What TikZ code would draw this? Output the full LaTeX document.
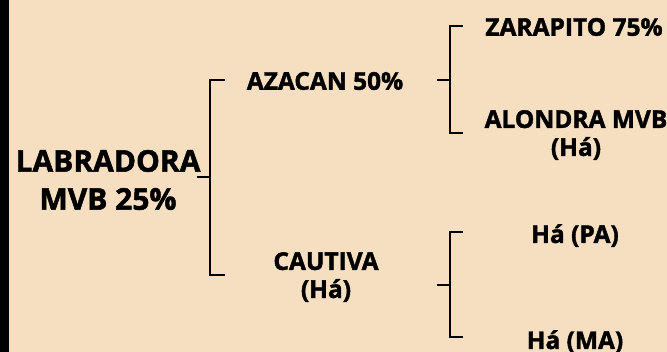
\documentclass[tikz,border=0pt]{standalone}
\usepackage{fontspec}
\setmainfont{Open Sans}[BoldFeatures={FakeBold=1.6}]
\definecolor{bg}{HTML}{F5DFC0}
\begin{document}
\begin{tikzpicture}[x=1pt,y=-1pt,
  big/.style={font=\fontsize{30}{38}\selectfont\bfseries, align=center, inner sep=0pt, text=black},
  small/.style={font=\fontsize{24.5}{28}\selectfont\bfseries, align=center, inner sep=0pt, text=black},
  brk/.style={line width=2.6pt, draw=black}]
\useasboundingbox (0,0) rectangle (667,352);
\fill[bg] (0,0) rectangle (667,352);
\fill[black] (0,0) rectangle (9,352);
% nodes
\node[big] (lab) at (108,180) {LABRADORA\\MVB 25\%};
\node[small] (aza) at (325,81) {AZACAN 50\%};
\node[small] (cau) at (326,277) {CAUTIVA\\(Há)};
\node[small] (zar) at (574,27) {ZARAPITO 75\%};
\node[small] (alo) at (576,135) {ALONDRA MVB\\(Há)};
\node[small, anchor=base] (hpa) at (575,243) {Há (PA)};
\node[small, anchor=base] (hma) at (575,349) {Há (MA)};
% bracket points
\coordinate (b1m) at (197,177);
\coordinate (b1c) at (210,177);
\coordinate (b1t) at (225,80);
\coordinate (b1b) at (225,275);
\coordinate (b2m) at (437,80);
\coordinate (b2c) at (450,80);
\coordinate (b2t) at (463,26);
\coordinate (b2b) at (463,133);
\coordinate (b3m) at (437,285);
\coordinate (b3c) at (450,285);
\coordinate (b3t) at (463,232);
\coordinate (b3b) at (463,337);
% brackets
\draw[brk] (b1t) -- (b1t -| b1c) -- (b1b -| b1c) -- (b1b);
\draw[brk] (b1m) -- (b1c);
\draw[brk] (b2t) -- (b2t -| b2c) -- (b2b -| b2c) -- (b2b);
\draw[brk] (b2m) -- (b2c);
\draw[brk] (b3t) -- (b3t -| b3c) -- (b3b -| b3c) -- (b3b);
\draw[brk] (b3m) -- (b3c);
\end{tikzpicture}
\end{document}
